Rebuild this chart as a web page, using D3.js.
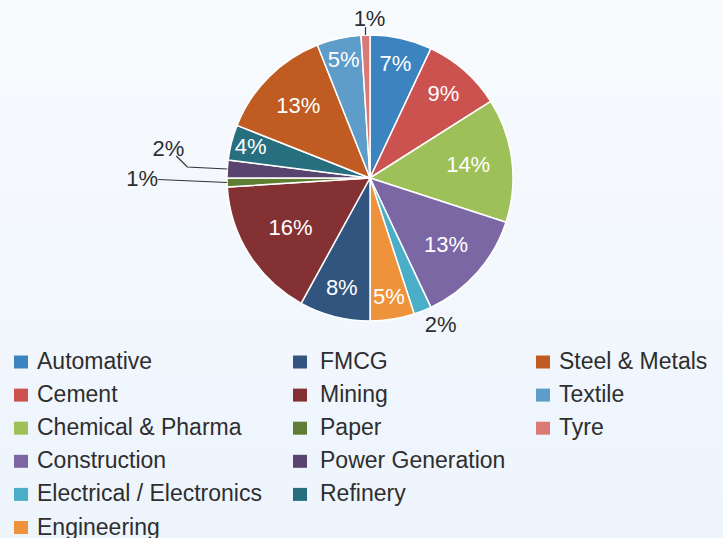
<!DOCTYPE html>
<html>
<head>
<meta charset="utf-8">
<title>Sector split</title>
<script src="https://d3js.org/d3.v7.min.js"></script>
<style>
    html, body { margin: 0; padding: 0; }
    body { width: 723px; height: 538px; overflow: hidden; }
    svg { display: block; font-family: "Helvetica Neue", Helvetica, "Liberation Sans", Arial, sans-serif; }
</style>
</head>
<body>
<div id="chart"></div>
<script>
    // sectors, clockwise from 12 o'clock
    const sectors = ["Automative", "Cement", "Chemical & Pharma", "Construction",
        "Electrical / Electronics", "Engineering", "FMCG", "Mining", "Paper",
        "Power Generation", "Refinery", "Steel & Metals", "Textile", "Tyre"];
    const shares = [7, 9, 14, 13, 2, 5, 8, 16, 1, 2, 4, 13, 5, 1];
    const colours = ["#3b84c0", "#cc5250", "#9dc158", "#7b67a4", "#4aaec8", "#ee923b",
        "#32557f", "#843134", "#5f7d33", "#58446e", "#276f7f", "#c05b22", "#5e9cca", "#d97a77"];

    // legend columns (which sectors go in which column)
    const legendCols = [
        ["Automative", "Cement", "Chemical & Pharma", "Construction", "Electrical / Electronics", "Engineering"],
        ["FMCG", "Mining", "Paper", "Power Generation", "Refinery"],
        ["Steel & Metals", "Textile", "Tyre"]
    ];

    const W = 723, H = 538;
    const cx = 370, cy = 178, R = 143;

    // small slices get their label outside, placed relative to the rim point
    const callouts = {
        "Tyre": { line: [[0, -8]], text: [4, -17] },
        "Electrical / Electronics": { line: [], text: [18, 14] },
        "Power Generation": { line: [[-40, -2], [-51, -13]], text: [-59, -21] },
        "Paper": { line: [[-69, -3]], text: [-85, -4] }
    };

    const svg = d3.select("#chart").append("svg")
        .attr("width", W).attr("height", H);

    const grad = svg.append("defs").append("linearGradient")
        .attr("id", "bg").attr("x1", 0).attr("y1", 0).attr("x2", 0).attr("y2", 1);
    grad.append("stop").attr("offset", "0%").attr("stop-color", "#f8fbfe");
    grad.append("stop").attr("offset", "100%").attr("stop-color", "#edf4fc");
    svg.append("rect").attr("width", W).attr("height", H).attr("fill", "url(#bg)");

    const colour = d3.scaleOrdinal().domain(sectors).range(colours);

    const data = sectors.map((s, i) => ({ name: s, value: shares[i] }));
    const pie = d3.pie().sort(null).value(d => d.value);
    const arcs = pie(data);
    const arc = d3.arc().innerRadius(0).outerRadius(R);

    const g = svg.append("g").attr("transform", `translate(${cx},${cy})`);

    g.selectAll("path.slice")
        .data(arcs)
        .join("path")
        .attr("class", "slice")
        .attr("d", arc)
        .attr("fill", d => colour(d.data.name))
        .attr("stroke", "#ffffff")
        .attr("stroke-width", 1.5)
        .attr("stroke-linejoin", "round");

    const mid = d => (d.startAngle + d.endAngle) / 2;
    const labelR = d => R * (0.93 - 0.017 * d.data.value);

    // inside labels: narrow slices sit closer to the rim
    const inside = arcs.filter(d => !callouts[d.data.name]);
    g.selectAll("text.in")
        .data(inside)
        .join("text")
        .attr("class", "in")
        .attr("x", d => Math.sin(mid(d)) * labelR(d))
        .attr("y", d => -Math.cos(mid(d)) * labelR(d))
        .attr("dy", "0.3em")
        .attr("text-anchor", "middle")
        .attr("fill", "#ffffff")
        .attr("font-size", 22)
        .text(d => d.data.value + "%");

    // outside labels with leader lines
    const outside = arcs.filter(d => callouts[d.data.name]);
    outside.forEach(d => {
        const a = mid(d);
        const e = [Math.sin(a) * R, -Math.cos(a) * R];
        const c = callouts[d.data.name];
        if (c.line.length) {
            const pts = [e].concat(c.line.map(p => [e[0] + p[0], e[1] + p[1]]));
            g.append("path")
                .attr("d", d3.line()(pts))
                .attr("fill", "none")
                .attr("stroke", "#333333")
                .attr("stroke-width", 1.2);
        }
        g.append("text")
            .attr("x", e[0] + c.text[0])
            .attr("y", e[1] + c.text[1])
            .attr("dy", "0.34em")
            .attr("text-anchor", "middle")
            .attr("fill", "#2e2e2e")
            .attr("font-size", 22)
            .text(d.data.value + "%");
    });

    // legend
    const colX = d3.scaleOrdinal().domain([0, 1, 2]).range([14, 293, 536]);
    const rowY = d3.scaleLinear().domain([0, 1]).range([362, 395.1]);

    legendCols.forEach((col, ci) => {
        const lg = svg.append("g");
        const item = lg.selectAll("g")
            .data(col)
            .join("g")
            .attr("transform", (d, i) => `translate(${colX(ci)},${rowY(i)})`);
        item.append("rect")
            .attr("x", 0).attr("y", -6.5)
            .attr("width", 14).attr("height", 13)
            .attr("fill", d => colour(d));
        item.append("text")
            .attr("x", ci === 1 ? 27 : 23)
            .attr("y", 7)
            .attr("fill", "#2e2e2e")
            .attr("font-size", 23)
            .text(d => d);
    });
</script>
</body>
</html>
